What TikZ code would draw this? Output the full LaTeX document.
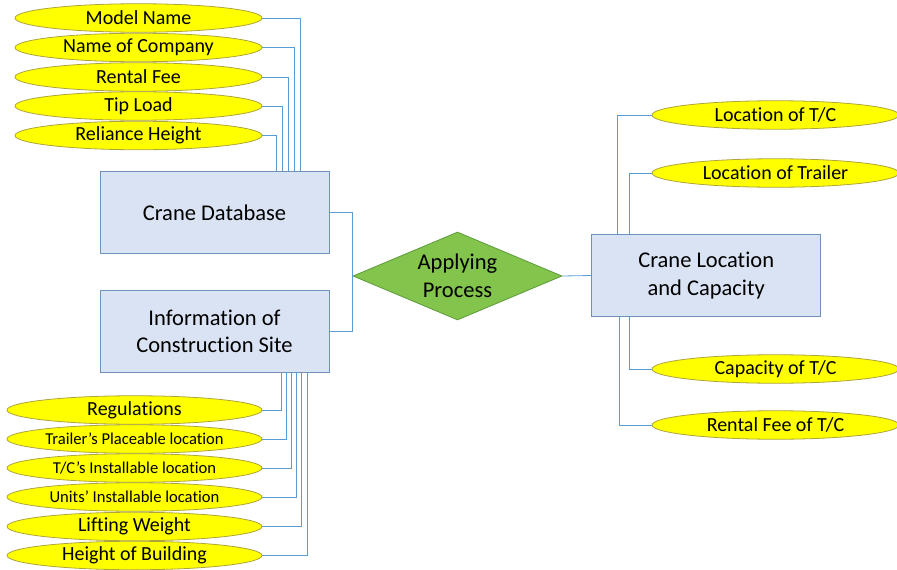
\documentclass[tikz,border=0pt]{standalone}
\usepackage{fontspec}
\setmainfont[Ligatures=NoCommon]{Carlito}
\usetikzlibrary{shapes.geometric}

\definecolor{ovalfill}{HTML}{FFFF00}
\definecolor{ovalline}{HTML}{ADA43C}
\definecolor{boxfill}{HTML}{DAE3F3}
\definecolor{boxline}{HTML}{6F92BD}
\definecolor{linkcol}{HTML}{5B9BD5}
\definecolor{diafill}{HTML}{82C44C}
\definecolor{dialine}{HTML}{5E9A3C}

\tikzset{
  attr/.style={ellipse, draw=ovalline, fill=ovalfill, line width=0.8pt,
    minimum width=247pt, minimum height=28.5pt, inner sep=0pt,
    font=\fontsize{20}{22}\selectfont},
  attrwide/.style={attr, minimum width=255pt},
  small/.style={font=\fontsize{16.6}{19}\selectfont},
  entity/.style={rectangle, draw=boxline, fill=boxfill, line width=0.8pt,
    minimum width=229pt, minimum height=82pt, inner sep=0pt, align=center,
    font=\fontsize{22.5}{27.5}\selectfont},
  process/.style={diamond, draw=dialine, fill=diafill, line width=0.8pt,
    minimum width=209pt, minimum height=88pt, inner sep=0pt, aspect=2.375},
  link/.style={draw=linkcol, line width=0.8pt}
}

\begin{document}
\begin{tikzpicture}[x=1pt, y=-1pt]
\useasboundingbox (0,0) rectangle (897,570);

% central entities
\node[entity] (cdb) at (214.5,212.5) {Crane Database};
\node[entity] (ics) at (214.5,331.5) {Information of\\Construction Site};
\node[entity] (clc) at (706.2,275.5) {Crane Location\\and Capacity};
\node[process, label={[align=center, font=\fontsize{22.5}{27.5}\selectfont]center:Applying\\Process}] (ap) at (457.5,276) {};

% crane database attributes
\node[attr] (mn) at (138.5,18) {Model Name};
\node[attr] (nc) at (138.5,47.5) {Name of Company};
\node[attr] (rf) at (138.5,77) {Rental Fee};
\node[attr] (tl) at (138.5,106) {Tip Load};
\node[attr] (rh) at (138.5,135.5) {Reliance Height};

% construction site attributes
\node[attrwide] (rg) at (134.5,410) {Regulations};
\node[attrwide, small] (tp) at (134.5,439) {Trailer’s Placeable location};
\node[attrwide, small] (tci) at (134.5,468) {T/C’s Installable location};
\node[attrwide, small] (ui) at (134.5,497) {Units’ Installable location};
\node[attrwide] (lw) at (134.5,526.5) {Lifting Weight};
\node[attrwide] (hb) at (134.5,555.5) {Height of Building};

% crane location attributes
\node[attr] (ltc) at (775.5,115) {Location of T/C};
\node[attr] (ltr) at (775.5,173) {Location of Trailer};
\node[attr] (ctc) at (775.5,369) {Capacity of T/C};
\node[attr] (rft) at (775.5,425) {Rental Fee of T/C};

% links: database attributes
\draw[link] (mn.east) -| ([xshift=85.5pt]cdb.north);
\draw[link] (nc.east) -| ([xshift=80pt]cdb.north);
\draw[link] (rf.east) -| ([xshift=74pt]cdb.north);
\draw[link] (tl.east) -| ([xshift=68pt]cdb.north);
\draw[link] (rh.east) -| ([xshift=62pt]cdb.north);

% links: site attributes
\draw[link] (rg.east) -| ([xshift=66.5pt]ics.south);
\draw[link] (tp.east) -| ([xshift=71.5pt]ics.south);
\draw[link] (tci.east) -| ([xshift=76.5pt]ics.south);
\draw[link] (ui.east) -| ([xshift=81.5pt]ics.south);
\draw[link] (lw.east) -| ([xshift=86.5pt]ics.south);
\draw[link] (hb.east) -| ([xshift=92.5pt]ics.south);

% links: process
\draw[link] (cdb.east) -| (ap.west);
\draw[link] (ics.east) -| (ap.west);
\draw[link] (ap.east) -- (clc.west);

% links: location attributes
\draw[link] (ltc.west) -| ([xshift=-89pt]clc.north);
\draw[link] (ltr.west) -| ([xshift=-77pt]clc.north);
\draw[link] (ctc.west) -| ([xshift=-77pt]clc.south);
\draw[link] (rft.west) -| ([xshift=-87pt]clc.south);
\end{tikzpicture}
\end{document}
